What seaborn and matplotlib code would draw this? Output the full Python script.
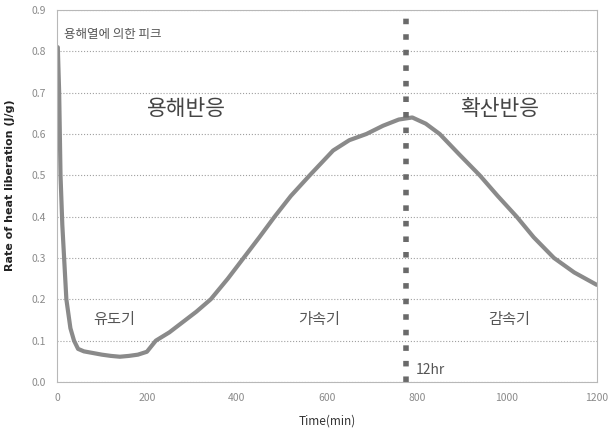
import numpy as np
import pandas as pd
import matplotlib
matplotlib.use("Agg")
import matplotlib.pyplot as plt
import seaborn as sns

# Heat liberation curve
time_min = [2, 5, 8, 12, 16, 21, 30, 38, 47, 60, 80, 100, 120, 140, 160, 180, 200,
            220, 250, 280, 310, 342, 380, 415, 450, 484, 520, 562, 614, 650, 688,
            725, 760, 790, 820, 851, 895, 940, 980, 1022, 1060, 1105, 1150, 1200]
heat_rate = [0.81, 0.70, 0.50, 0.38, 0.30, 0.20, 0.13, 0.10, 0.08, 0.074, 0.070, 0.066,
             0.063, 0.061, 0.063, 0.066, 0.073, 0.100, 0.120, 0.145, 0.170, 0.200,
             0.250, 0.300, 0.350, 0.400, 0.450, 0.500, 0.560, 0.585, 0.600, 0.620,
             0.635, 0.640, 0.625, 0.600, 0.550, 0.500, 0.450, 0.400, 0.350, 0.300,
             0.265, 0.235]

split_time = 775
x_ticks = [0, 200, 400, 600, 800, 1000, 1200]
y_ticks = [0.0, 0.1, 0.2, 0.3, 0.4, 0.5, 0.6, 0.7, 0.8, 0.9]

df = pd.DataFrame({"time": time_min, "rate": heat_rate})

sns.set_style("white")
plt.rcParams["font.family"] = ["Noto Sans CJK KR", "DejaVu Sans"]

fig = plt.figure(figsize=(6.12, 4.36), dpi=100)
ax = fig.add_axes([0.093, 0.124, 0.882, 0.853])

sns.lineplot(data=df, x="time", y="rate", ax=ax, color="#8a8a8a", linewidth=3.0)
ax.axvline(split_time, color="#6a6a6a", linestyle=(0, (1, 1.8)), linewidth=4)

ax.set_xlim(0, 1200)
ax.set_ylim(0, 0.9)
ax.set_xticks(x_ticks)
ax.set_yticks(y_ticks)
ax.set_yticklabels([f"{v:.1f}" for v in y_ticks])
ax.grid(axis="y", linestyle=":", color="#a0a0a0", linewidth=0.8)
ax.tick_params(colors="#8a8a8a", labelsize=7.5, length=0, pad=8)
for s in ax.spines.values():
    s.set_color("#b8b8b8")
    s.set_linewidth(0.8)

ax.set_xlabel("Time(min)", fontsize=8.5, color="#333333", labelpad=8)
ax.set_ylabel("Rate of heat liberation (J/g)", fontsize=8, color="#222222",
              fontweight="bold", family="DejaVu Sans")
ax.yaxis.set_label_coords(-0.078, 0.53)

ax.text(15, 0.84, "용해열에 의한 피크", fontsize=9, color="#555555", va="center")
ax.text(289, 0.66, "용해반응", fontsize=15.5, color="#444444", ha="center", va="center",
        fontweight="medium")
ax.text(984, 0.66, "확산반응", fontsize=15.5, color="#444444", ha="center", va="center",
        fontweight="medium")
ax.text(127, 0.151, "유도기", fontsize=11, color="#555555", ha="center", va="center")
ax.text(582, 0.151, "가속기", fontsize=11, color="#555555", ha="center", va="center")
ax.text(1005, 0.151, "감속기", fontsize=11, color="#555555", ha="center", va="center")
ax.text(797, 0.03, "12hr", fontsize=10, color="#555555", va="center")

fig.savefig("out.png", dpi=100)
